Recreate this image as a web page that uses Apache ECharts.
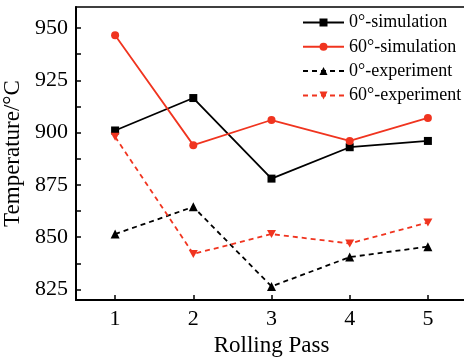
<!DOCTYPE html>
<html>
<head>
<meta charset="utf-8">
<script src="https://cdn.jsdelivr.net/npm/echarts@6/dist/echarts.min.js"></script>
<style>html,body{margin:0;padding:0;background:#fff}#c{width:464px;height:358px}</style>
</head>
<body>
<div id="c"></div>
<script>
var passes = [1, 2, 3, 4, 5];
var sim0 = [901, 916.5, 878, 893, 896];
var sim60 = [946.5, 894, 906, 896, 907];
var exp0 = [851.5, 864.5, 826.5, 840.5, 845.5];
var exp60 = [898, 842, 851.5, 847, 857];
var yLabelValues = [825, 850, 875, 900, 925, 950];
var yTickValues = [825, 837.5, 850, 862.5, 875, 887.5, 900, 912.5, 925, 937.5, 950];
var names = ['0°-simulation', '60°-simulation', '0°-experiment', '60°-experiment'];

var RED = '#f0341f';
var font = 'Liberation Serif';
function pairs(v) { return passes.map(function (p, i) { return [p, v[i]]; }); }
var downTri = 'path://M0,0 L10,0 L5,9 Z';

var chart = echarts.init(document.getElementById('c'));
chart.setOption({
  animation: false,
  grid: { left: 76, top: 7, right: -3, bottom: 58, outerBoundsMode: 'none', containLabel: false,
          show: true, borderColor: '#000', borderWidth: 1.5 },
  legend: {
    orient: 'vertical', left: 297, top: 8.5, itemWidth: 41, itemHeight: 10, itemGap: 6.3,
    textStyle: { fontFamily: font, fontSize: 18, color: '#000' },
    data: names
  },
  xAxis: {
    type: 'value', min: 0.5, max: 5.5,
    name: 'Rolling Pass', nameLocation: 'middle', nameGap: 34,
    nameTextStyle: { fontFamily: font, fontSize: 23, color: '#000' },
    axisLine: { lineStyle: { color: '#000', width: 2 } },
    axisTick: { inside: true, length: 5, lineStyle: { color: '#000', width: 1.5 }, customValues: passes },
    axisLabel: { fontFamily: font, fontSize: 22, color: '#000', margin: 8, customValues: passes },
    splitLine: { show: false }
  },
  yAxis: {
    type: 'value', min: 820, max: 960,
    name: 'Temperature/°C', nameLocation: 'middle', nameGap: 51,
    nameTextStyle: { fontFamily: font, fontSize: 23, color: '#000' },
    axisLine: { show: true, lineStyle: { color: '#000', width: 2 } },
    axisTick: { inside: true, length: 5, lineStyle: { color: '#000', width: 1.5 }, customValues: yTickValues },
    axisLabel: { fontFamily: font, fontSize: 22, color: '#000', margin: 8, customValues: yLabelValues },
    splitLine: { show: false }
  },
  series: [
    { name: names[0], type: 'line', data: pairs(sim0), symbol: 'rect', symbolSize: 8,
      lineStyle: { color: '#000', width: 1.8 }, itemStyle: { color: '#000' } },
    { name: names[1], type: 'line', data: pairs(sim60), symbol: 'circle', symbolSize: 8,
      lineStyle: { color: RED, width: 1.8 }, itemStyle: { color: RED } },
    { name: names[2], type: 'line', data: pairs(exp0), symbol: 'triangle', symbolSize: 9,
      lineStyle: { color: '#000', width: 1.8, type: [5, 4] }, itemStyle: { color: '#000' } },
    { name: names[3], type: 'line', data: pairs(exp60), symbol: downTri, symbolSize: [9, 8],
      lineStyle: { color: RED, width: 1.8, type: [5, 4] }, itemStyle: { color: RED } }
  ]
});
</script>
</body>
</html>
